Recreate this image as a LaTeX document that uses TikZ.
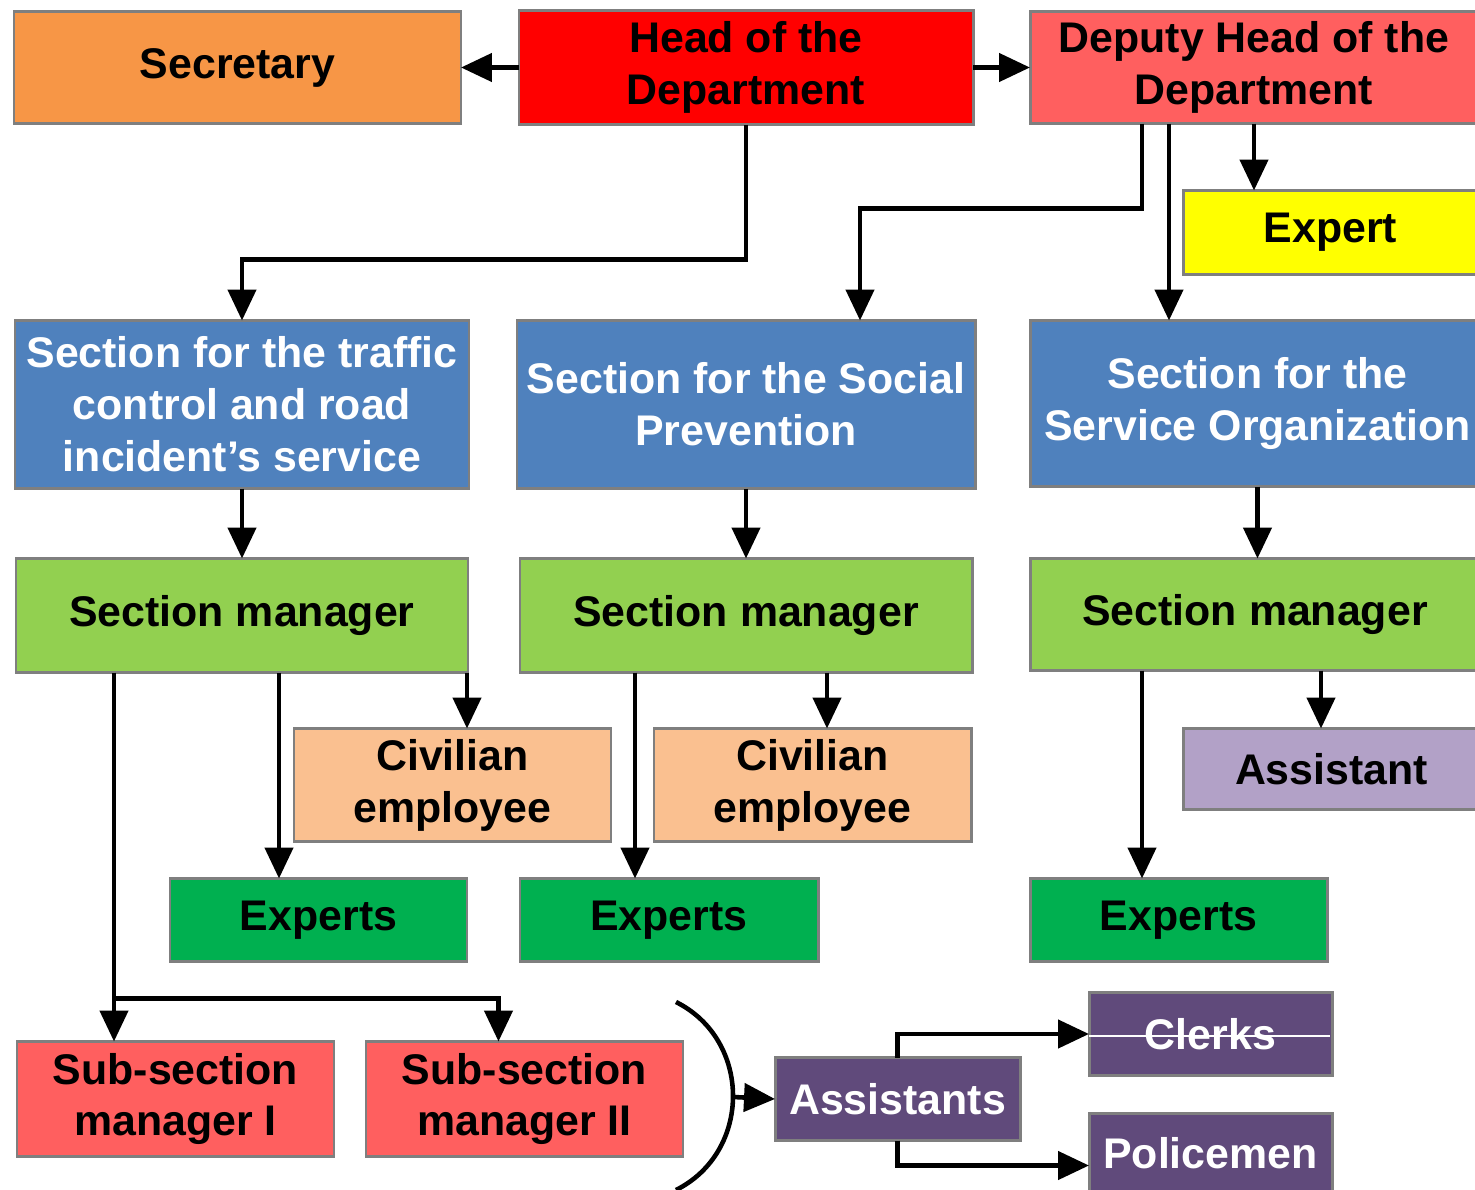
\documentclass[tikz,border=0pt]{standalone}
\usepackage{fontspec}
\setmainfont{Liberation Sans}
\usetikzlibrary{arrows.meta,calc}
\definecolor{bordergray}{HTML}{7F7F7F}
\definecolor{secorange}{HTML}{F79646}
\definecolor{headred}{HTML}{FF0000}
\definecolor{lightred}{HTML}{FF5F5F}
\definecolor{expyellow}{HTML}{FFFF00}
\definecolor{secblue}{HTML}{4F81BD}
\definecolor{mgrgreen}{HTML}{92D050}
\definecolor{civpeach}{HTML}{FAC090}
\definecolor{lavender}{HTML}{B2A1C7}
\definecolor{expgreen}{HTML}{00B050}
\definecolor{darkpurple}{HTML}{604A7B}
\tikzset{
  box/.style={draw=bordergray, line width=1.7pt, inner sep=0pt, outer sep=0pt, align=center,
    font=\fontsize{24.4}{29.5}\selectfont\bfseries},
  arr/.style={line width=2.6pt, -{Triangle[length=0.62cm,width=0.56cm]}},
  ln/.style={line width=2.6pt},
}
\newcommand\bx[7]{\node[box,#6, minimum width={(#4-#2)*0.02cm}, minimum height={(#5-#3)*0.02cm}] (#1) at ({(#2+#4)/2},{(#3+#5)/2+1.5}) {#7};}
\begin{document}
\begin{tikzpicture}[x=0.02cm,y=-0.02cm]
\useasboundingbox (0,0) rectangle (1475,1190);
\clip (0,0) rectangle (1475,1190);
% top row
\bx{sec}{14}{10}{461}{122}{fill=secorange}{Secretary}
\bx{head}{519}{9}{973}{123}{fill=headred}{Head of the\\Department}
\bx{dep}{1030}{10}{1478}{122}{fill=lightred}{Deputy Head of the\\Department}
\bx{expert}{1183}{189}{1478}{273}{fill=expyellow}{Expert}
% sections
\bx{traffic}{15}{319}{469}{487}{fill=secblue,text=white}{Section for the traffic\\control and road\\incident’s service}
\bx{social}{517}{319}{975}{487}{fill=secblue,text=white}{Section for the Social\\Prevention}
\bx{service}{1030}{319}{1485}{485}{fill=secblue,text=white}{Section for the\\Service Organization}
% managers
\bx{smA}{16}{557}{468}{671}{fill=mgrgreen}{Section manager}
\bx{smB}{520}{557}{972}{671}{fill=mgrgreen}{Section manager}
\bx{smC}{1030}{557}{1480}{669}{fill=mgrgreen}{Section manager}
% third row
\bx{civA}{294}{727}{611}{840}{fill=civpeach}{Civilian\\employee}
\bx{civB}{654}{727}{971}{840}{fill=civpeach}{Civilian\\employee}
\bx{asst}{1183}{727}{1480}{808}{fill=lavender}{Assistant}
\bx{expA}{170}{877}{467}{960}{fill=expgreen}{Experts}
\bx{expB}{520}{877}{818}{960}{fill=expgreen}{Experts}
\bx{expC}{1030}{877}{1327}{960}{fill=expgreen}{Experts}
% bottom
\bx{subA}{17}{1040}{334}{1155}{fill=lightred}{Sub-section\\manager I}
\bx{subB}{366}{1040}{683}{1155}{fill=lightred}{Sub-section\\manager II}
\bx{assts}{775}{1056}{1020}{1139}{fill=darkpurple,text=white}{Assistants}
\bx{clerks}{1089}{991}{1332}{1074}{fill=darkpurple,text=white}{Clerks}
\bx{police}{1089}{1112}{1332}{1192}{fill=darkpurple,text=white}{Policemen}
\draw[white, line width=0.6pt] ($(clerks.west)+(0,2)$) -- ($(clerks.east)+(-2,2)$);
% connectors top
\draw[arr] (head.west) -- (sec.east);
\draw[arr] (head.east) -- (dep.west);
\draw[arr] (head.south) -- ++(0,135) -| (traffic.north);
\draw[arr] ($(dep.south)+(-112,0)$) -- ++(0,85) -| ($(social.north)+(114,0)$);
\coordinate (d2) at ($(dep.south)+(-85,0)$);
\draw[arr] (d2) -- (d2 |- service.north);
\draw[arr] (dep.south) -- (dep.south |- expert.north);
% sections to managers
\draw[arr] (traffic.south) -- (smA.north);
\draw[arr] (social.south) -- (smB.north);
\draw[arr] (service.south) -- (service.south |- smC.north);
% manager A
\coordinate (a1) at ($(smA.south)+(-128,0)$);
\coordinate (a2) at ($(smA.south)+(37,0)$);
\coordinate (a3) at ($(smA.south)+(225,0)$);
\draw[arr] (a1) -- (a1 |- subA.north);
\coordinate (br) at ($(a1)+(0,326)$);
\draw[arr] (br) -| ($(subB.north)+(-26,0)$);
\draw[arr] (a2) -- (a2 |- expA.north);
\draw[arr] (a3) -- (a3 |- civA.north);
% manager B
\coordinate (b1) at ($(smB.south)+(-111,0)$);
\coordinate (b2) at ($(smB.south)+(81,0)$);
\draw[arr] (b1) -- (b1 |- expB.north);
\draw[arr] (b2) -- (b2 |- civB.north);
% manager C
\coordinate (c1) at ($(smC.south)+(-113,0)$);
\coordinate (c2) at ($(smC.south)+(66,0)$);
\draw[arr] (c1) -- (c1 |- expC.north);
\draw[arr] (c2) -- (c2 |- asst.north);
% bracket and assistants
\draw[ln] (676,1002) .. controls (752,1040) and (752,1152) .. (676,1190);
\coordinate (am) at (733,1097);
\draw[arr] (am) -- (assts.west);
\draw[arr] (assts.north) |- (clerks.west);
\draw[arr] (assts.south) |- ($(police.west)+(0,12)$);
\end{tikzpicture}
\end{document}
